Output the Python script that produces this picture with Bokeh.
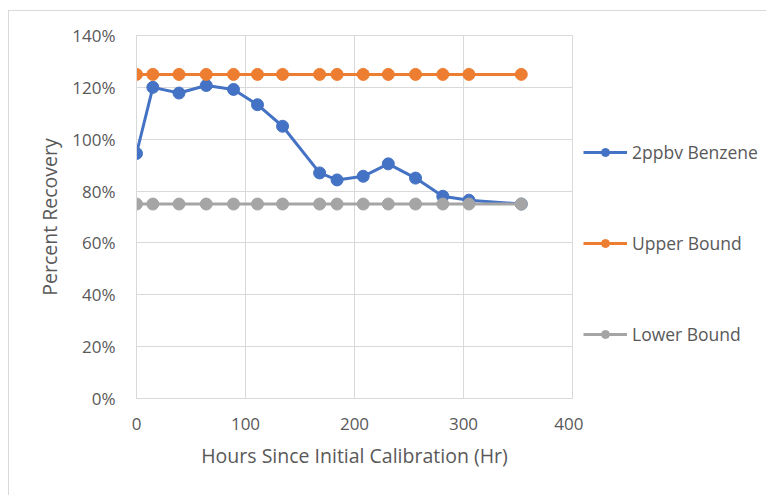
from bokeh.plotting import figure
from bokeh.layouts import row
from bokeh.models import Legend, LegendItem, NumeralTickFormatter, FixedTicker, Range1d
from bokeh.embed import file_html
from bokeh.resources import INLINE

hours = [0, 15, 39, 64, 89, 111, 134, 168, 184, 208, 231, 256, 281, 305, 353]
benzene = [0.945, 1.20, 1.178, 1.207, 1.192, 1.133, 1.050, 0.870, 0.843, 0.857, 0.905, 0.850, 0.780, 0.765, 0.750]
upper = [1.25] * len(hours)
lower = [0.75] * len(hours)
series_names = ["2ppbv Benzene", "Upper Bound", "Lower Bound"]
x_ticks = [0, 100, 200, 300, 400]
y_ticks = [0, 0.2, 0.4, 0.6, 0.8, 1.0, 1.2, 1.4]

FONT = "Open Sans"
TXT = "#595959"
GRID = "#d9d9d9"

p = figure(width=574, height=484, output_backend="svg", toolbar_location=None,
           x_range=Range1d(0, 400), y_range=Range1d(0, 1.4),
           min_border_left=127, min_border_right=11, min_border_top=24, min_border_bottom=97)
p.outline_line_color = GRID

p.xaxis.ticker = FixedTicker(ticks=x_ticks)
p.yaxis.ticker = FixedTicker(ticks=y_ticks)
p.yaxis.formatter = NumeralTickFormatter(format="0%")
p.xgrid.grid_line_color = GRID
p.ygrid.grid_line_color = GRID
for ax in (p.xaxis[0], p.yaxis[0]):
    ax.axis_line_color = GRID
    ax.major_tick_line_color = None
    ax.minor_tick_line_color = None
    ax.major_label_text_font = FONT
    ax.major_label_text_font_size = "17px"
    ax.major_label_text_color = TXT
    ax.axis_label_text_font = FONT
    ax.axis_label_text_font_size = "19.5px"
    ax.axis_label_text_color = TXT
    ax.axis_label_text_font_style = "normal"
p.xaxis.axis_label = "Hours Since Initial Calibration (Hr)"
p.yaxis.axis_label = "Percent Recovery"
p.xaxis.major_label_standoff = 13
p.yaxis.major_label_standoff = 15
p.xaxis.axis_label_standoff = 9
p.yaxis.axis_label_standoff = 6

colors = ["#4472C4", "#ED7D31", "#A5A5A5"]
data = [benzene, upper, lower]

# legend lives in a narrow side figure (its own renderers are outside its ranges)
lf = figure(width=183, height=484, output_backend="svg", toolbar_location=None,
            x_range=Range1d(-10, -5), y_range=Range1d(-10, -5),
            x_axis_location=None, y_axis_location=None, min_border=0)
lf.outline_line_color = None
lf.grid.visible = False

items = []
for name, ys, c in zip(series_names, data, colors):
    p.line(hours, ys, line_color=c, line_width=3)
    p.scatter(hours, ys, size=12, fill_color=c, line_color=c)
    l2 = lf.line(hours, ys, line_color=c, line_width=3)
    s2 = lf.scatter(hours, ys, size=12, fill_color=c, line_color=c)
    items.append(LegendItem(label=name, renderers=[l2, s2]))

legend = Legend(items=items, location=(0, 52), glyph_width=44, glyph_height=20,
                label_height=20, spacing=67, padding=0, margin=0, label_standoff=5,
                border_line_color=None, background_fill_alpha=0,
                label_text_font=FONT, label_text_font_size="17.5px", label_text_color=TXT)
lf.add_layout(legend, "center")

layout = row(p, lf, margin=(10, 0, 0, 8))
layout.styles = {"border-top": "1px solid #d9d9d9", "border-left": "1px solid #d9d9d9"}

open("out.html", "w").write(file_html(layout, INLINE))
